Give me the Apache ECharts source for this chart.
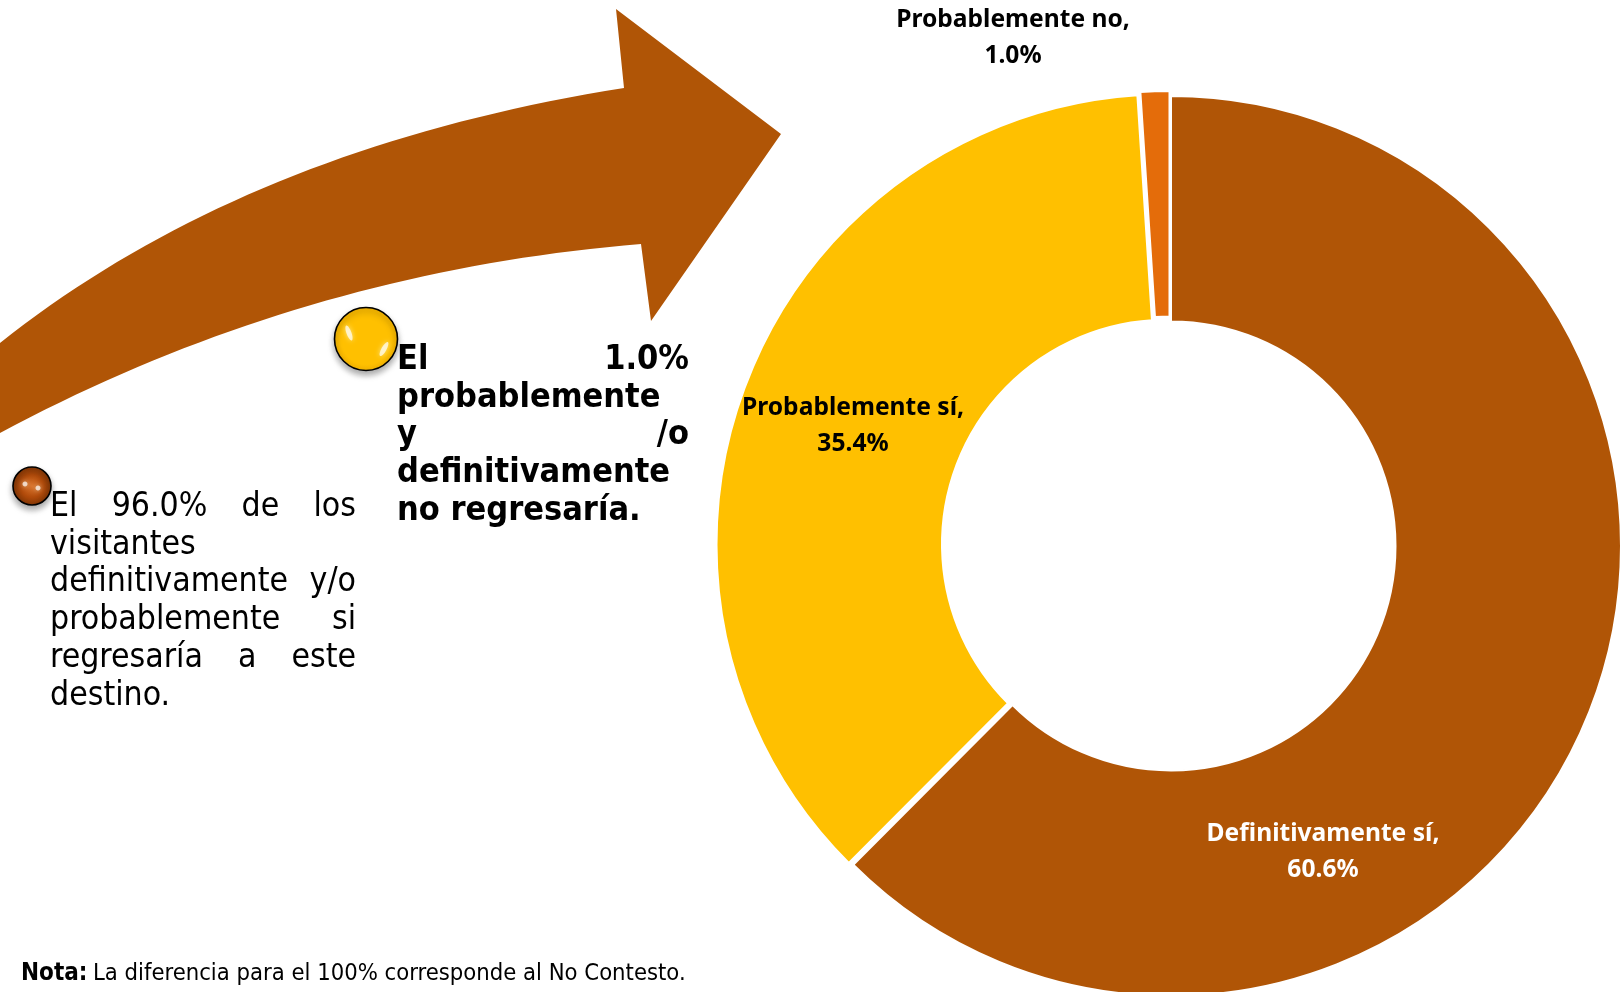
<!DOCTYPE html>
<html>
<head>
<meta charset="utf-8">
<style>
html,body{margin:0;padding:0;background:#fff;overflow:hidden}
#main{width:1623px;height:992px}
</style>
<script src="https://cdn.jsdelivr.net/npm/echarts@6/dist/echarts.min.js"></script>
</head>
<body>
<div id="main"></div>
<script>
var categories = ['Definitivamente sí', 'Probablemente sí', 'Probablemente no'];
var values = [60.6, 35.4, 1.0];
var sliceColors = ['#B05506', '#FFC000', '#E46C0A'];
var labelColors = ['#ffffff', '#000000', '#000000'];
var labelCenters = [[1323, 852], [853, 426], [1013, 38]];
var sliceShift = [[0, 0], [-4.5, -1.7], [-1.5, -5]];
var textLeft = ['El 96.0% de los', 'visitantes', 'definitivamente y/o', 'probablemente si', 'regresaría a este', 'destino.'];
var textRight = ['El 1.0%', 'probablemente', 'y /o', 'definitivamente', 'no regresaría.'];
var noteBold = 'Nota:';
var noteText = 'La diferencia para el 100% corresponde al No Contesto.';

var measureCtx = document.createElement('canvas').getContext('2d');

//一行两端对齐,每个词一个text
function justifiedLines(lines, x, y, width, lineH, size, weight, justify){
	var out = [];
	var font = weight + ' ' + size + 'px "DejaVu Sans Condensed"';
	measureCtx.font = font;
	lines.forEach(function(line, i){
		var words = line.split(' ');
		var px = x;
		var gap = measureCtx.measureText(' ').width;
		if(justify[i] && words.length > 1){
			var used = 0;
			words.forEach(function(w){ used += measureCtx.measureText(w).width; });
			gap = (width - used) / (words.length - 1);
		}
		words.forEach(function(w){
			out.push({
				type: 'text', x: px, y: y + i * lineH, z: 20,
				style: {text: w, fill: '#000', font: font, verticalAlign: 'middle'}
			});
			px += measureCtx.measureText(w).width + gap;
		});
	});
	return out;
}

function ball(cx, cy, r, stops, spots){
	var list = [{
		type: 'circle', shape: {cx: cx, cy: cy, r: r}, z: 10,
		style: {
			fill: new echarts.graphic.RadialGradient(0.5, 0.5, 0.52, stops),
			stroke: '#000', lineWidth: 1.6,
			shadowBlur: 6, shadowOffsetY: 4, shadowColor: 'rgba(0,0,0,0.35)'
		}
	}];
	spots.forEach(function(s){
		list.push({
			type: 'ellipse', shape: {cx: s[0], cy: s[1], rx: s[2], ry: s[3]}, rotation: s[4] || 0, originX: s[0], originY: s[1], z: 11,
			style: {fill: 'rgba(255,255,255,0.7)', shadowBlur: 5, shadowColor: 'rgba(255,255,220,0.9)'}
		});
	});
	return list;
}

//二次贝塞尔取点,箭头弧线用
function curve(a, c, b){
	var pts = [];
	for(var k = 0; k <= 40; k++){
		var t = k / 40, u = 1 - t;
		pts.push([u*u*a[0] + 2*u*t*c[0] + t*t*b[0], u*u*a[1] + 2*u*t*c[1] + t*t*b[1]]);
	}
	return pts;
}

var arrow = {
	type: 'polygon', z: 1,
	shape: {
		points: curve([0, 343], [245, 148], [624, 88])
			.concat([[616, 9], [781, 134], [651, 321]])
			.concat(curve([641, 244], [300, 272], [0, 433]))
	},
	style: {fill: '#B05506'}
};

var yellowStops = [{offset: 0, color: '#FFC000'}, {offset: 0.75, color: '#FFC000'}, {offset: 1, color: '#F0B000'}];
var brownStops = [{offset: 0, color: '#D9732B'}, {offset: 0.55, color: '#B04A0A'}, {offset: 1, color: '#7A3305'}];

var graphics = [arrow]
	.concat(ball(366, 339, 31.5, yellowStops, [[349, 333, 2.5, 8, 0.35], [384, 349, 2.5, 8, -0.5]]))
	.concat(ball(32, 486, 19, brownStops, [[25, 484, 2.5, 2.5], [38, 488, 2.5, 2.5]]))
	.concat(justifiedLines(textRight, 397, 360, 292, 37.8, 34, 'bold', [true, false, true, false, false]))
	.concat(justifiedLines(textLeft, 50, 507, 306, 37.8, 33.5, 'normal', [true, false, true, true, true, false]))
	.concat([
		{type: 'text', x: 21, y: 974, z: 20, style: {text: noteBold, fill: '#000', font: 'bold 24px "DejaVu Sans Condensed"', verticalAlign: 'middle'}},
		{type: 'text', x: 93, y: 974, z: 20, style: {text: noteText, fill: '#000', font: '23.6px "DejaVu Sans Condensed"', verticalAlign: 'middle'}}
	]);

//每块一个series,其余块透明,这样每块可以有自己的偏移
var pieSeries = categories.map(function(name, idx){
	return {
		type: 'pie',
		center: [1171 + sliceShift[idx][0], 546 + sliceShift[idx][1]],
		radius: [224.5, 450],
		startAngle: 90,
		clockwise: true,
		silent: true,
		label: {
			show: false,
			position: 'inside',
			fontFamily: 'Noto Sans',
			fontWeight: 'bold',
			fontSize: 24.6,
			lineHeight: 36.5,
			align: 'center',
			formatter: function(p){ return p.name + ',\n' + p.value.toFixed(1) + '%'; }
		},
		labelLine: {show: false},
		labelLayout: function(){
			var c = labelCenters[idx];
			return {x: c[0], y: c[1], align: 'center', verticalAlign: 'middle'};
		},
		data: categories.map(function(n, i){
			var on = i === idx;
			return {
				name: n,
				value: values[i],
				itemStyle: on ? {color: sliceColors[i], borderColor: '#fff', borderWidth: 2} : {color: 'transparent', borderWidth: 0},
				label: {show: on, color: labelColors[i]}
			};
		})
	};
});

var myChart = echarts.init(document.getElementById('main'));
myChart.setOption({
	animation: false,
	graphic: graphics,
	series: pieSeries
});
</script>
</body>
</html>
